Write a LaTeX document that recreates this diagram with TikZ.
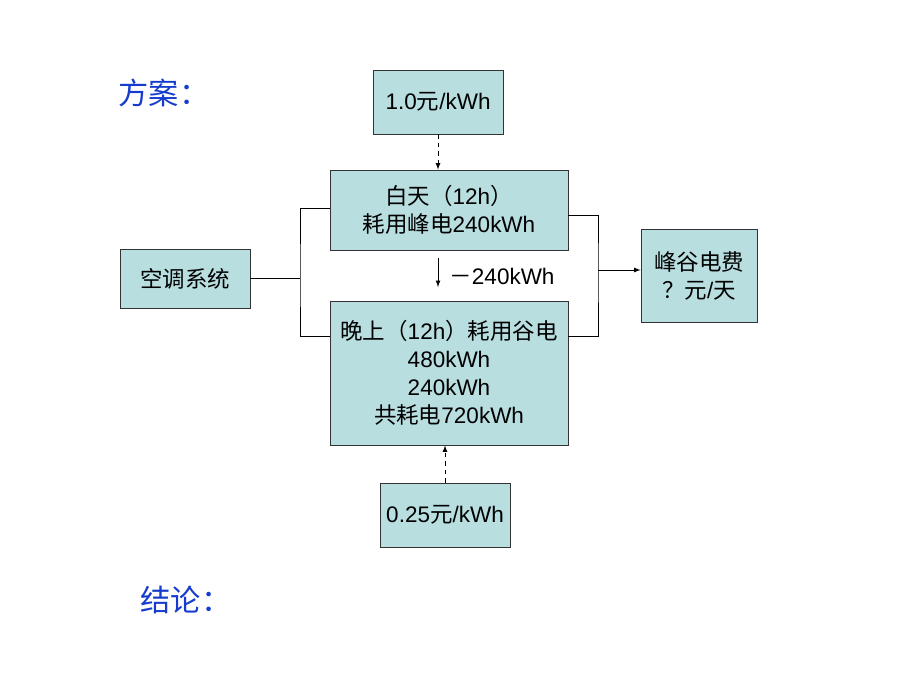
\documentclass[tikz,border=0pt]{standalone}
\usepackage{fontspec}
\setmainfont{Liberation Sans}
\newfontfamily\cjk{Noto Sans CJK SC}
\newcommand{\zh}[1]{{\cjk #1}}
\usetikzlibrary{arrows}
\definecolor{boxfill}{RGB}{184,222,224}
\definecolor{titleblue}{RGB}{22,60,205}
\tikzset{
  box/.style = {draw=black!80, fill=boxfill, line width=0.6pt, align=center,
    font=\fontsize{16}{20}\selectfont},
  titletext/.style = {titleblue, font=\fontsize{21.5}{24}\selectfont\cjk},
  wire/.style = {line width=0.6pt}
}
\begin{document}
\begin{tikzpicture}
  \useasboundingbox (0,0) rectangle (23,17.25);
  \node[titletext] (plan) at (4.1,14.925) {方案：};
  \node[titletext] (result) at (4.65,2.25) {结论：};

  \node[box, minimum width=3.25cm, minimum height=1.6cm] (pricepeak) at (10.95,14.7) {1.0\zh{元}/kWh};
  \node[box, minimum width=5.95cm, minimum height=2cm] (day) at (11.225,12.0)
    {\zh{白天（}12h\zh{）}\\ \zh{耗用峰电}240kWh};
  \node[box, minimum width=5.95cm, minimum height=3.6cm] (night) at (11.225,7.925)
    {\zh{晚上（}12h\zh{）耗用谷电}\\ 480kWh\\ 240kWh\\ \zh{共耗电}720kWh};
  \node[box, minimum width=3.25cm, minimum height=1.6cm] (pricevalley) at (11.125,4.375) {0.25\zh{元}/kWh};
  \node[box, minimum width=3.25cm, minimum height=1.475cm] (ac) at (4.625,10.2875) {\zh{空调系统}};
  \node[box, minimum width=2.9cm, minimum height=2.325cm] (fee) at (17.475,10.3625)
    {\zh{峰谷电费}\\ \zh{？元}/\zh{天}};

  % shift of 240kWh from day to night
  \coordinate (shifttop) at (10.95,10.8);
  \coordinate (shiftbot) at (10.95,10.075);
  \draw[wire,-latex] (shifttop) -- (shiftbot);
  \node[font=\fontsize{16}{20}\selectfont] (shift) at (12.55,10.35) {\zh{－}240kWh};

  % prices
  \draw[wire,dashed,-latex] (pricepeak.south) -- (pricepeak.south |- day.north);
  \draw[wire,dashed,-latex] (pricevalley.north) -- (pricevalley.north |- night.south);

  % left branch
  \coordinate (jl) at (7.5,10.2875);
  \draw[wire] (ac.east) -- (jl);
  \draw[wire] ([yshift=0.05cm]day.west) -| (jl) |- ([yshift=-0.9cm]night.north west);

  % right branch
  \coordinate (jr) at (14.95,10.5);
  \draw[wire] ([yshift=-0.125cm]day.east) -| (jr) |- ([yshift=-0.9cm]night.north east);
  \draw[wire,-latex] (jr) -- (jr -| fee.west);
\end{tikzpicture}
\end{document}
